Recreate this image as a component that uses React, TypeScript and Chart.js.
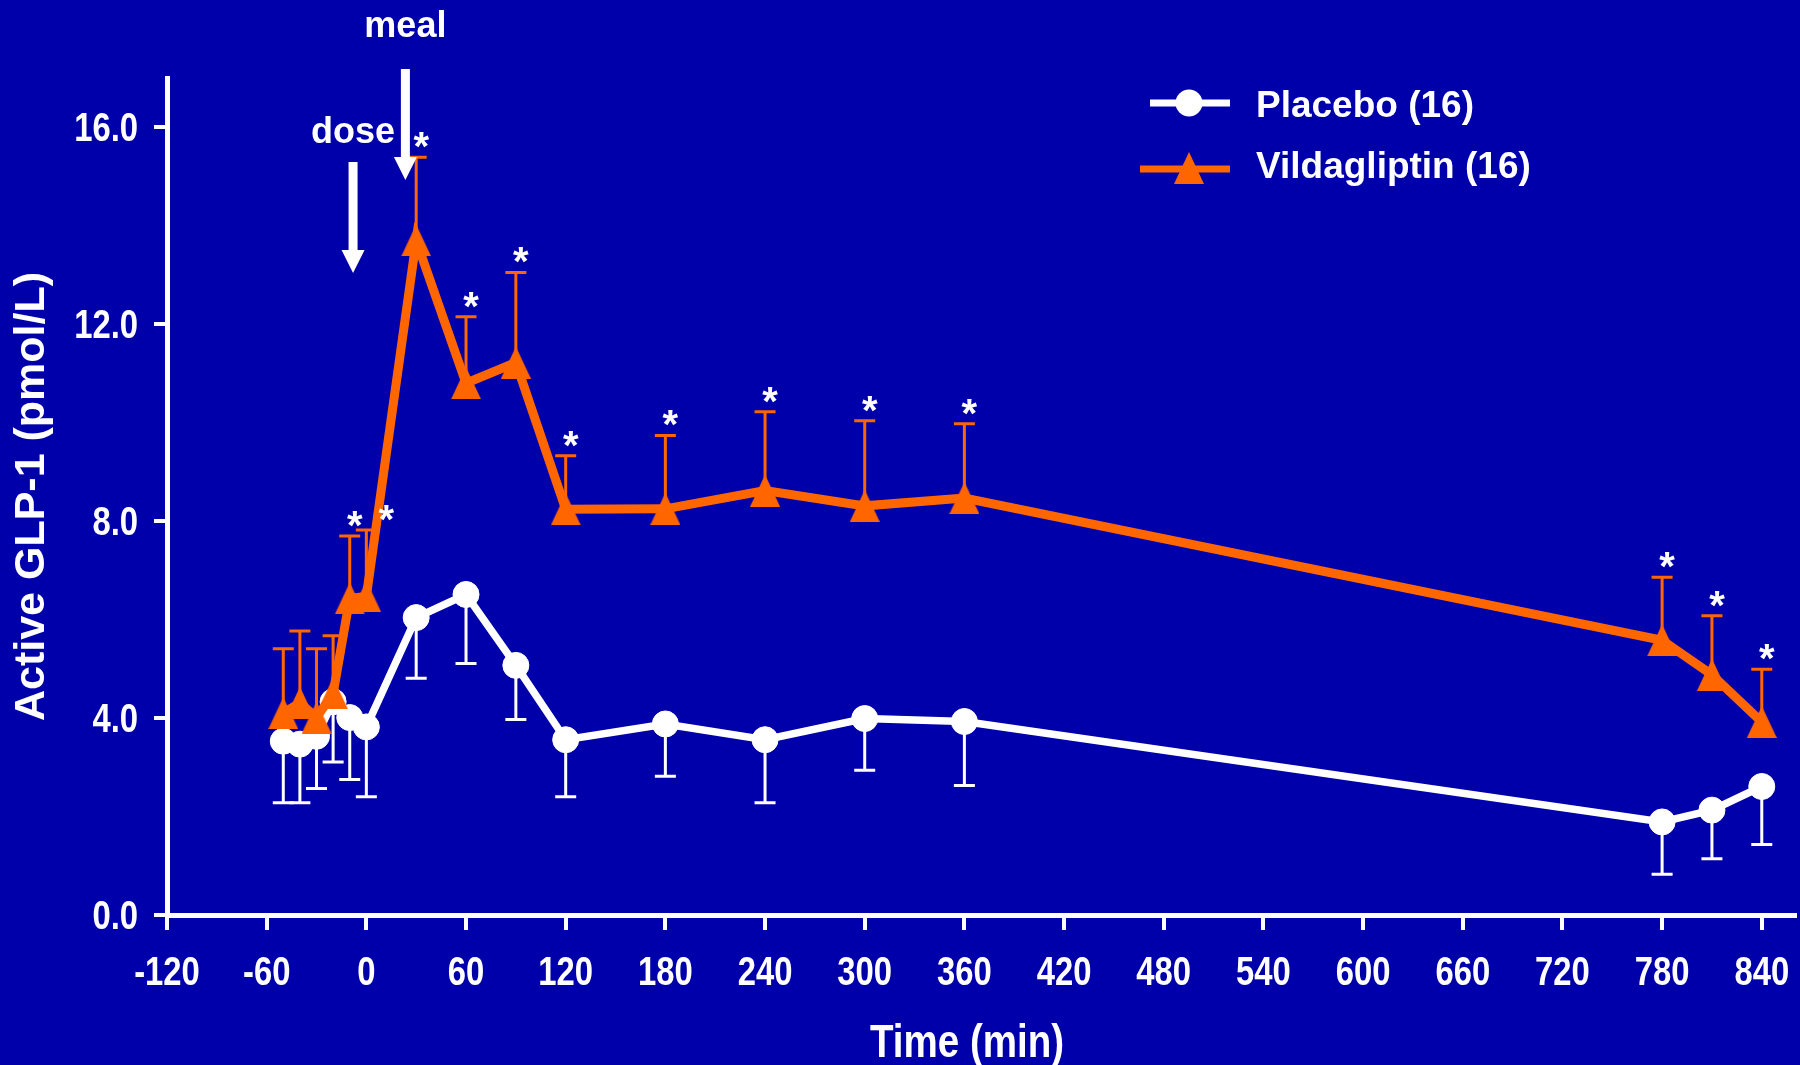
import React, { useEffect, useRef } from 'react';
import { Chart, registerables } from 'chart.js';

Chart.register(...registerables);

// ---------- data ----------
const timePoints = [-50, -40, -30, -20, -10, 0, 30, 60, 90, 120, 180, 240, 300, 360, 780, 810, 840];
const placeboMean = [3.53, 3.47, 3.63, 4.33, 4.01, 3.82, 6.04, 6.51, 5.07, 3.56, 3.88, 3.56, 3.99, 3.93, 1.89, 2.13, 2.61];
const placeboSD = [1.25, 1.19, 1.06, 1.22, 1.26, 1.42, 1.23, 1.4, 1.1, 1.16, 1.06, 1.28, 1.05, 1.3, 1.06, 0.99, 1.18];
const vildagliptinMean = [4.1, 4.31, 4.01, 4.5, 6.43, 6.47, 13.7, 10.8, 11.22, 8.24, 8.25, 8.62, 8.31, 8.47, 5.58, 4.88, 3.92];
const vildagliptinSD = [1.31, 1.46, 1.4, 1.17, 1.27, 1.35, 1.69, 1.35, 1.83, 1.09, 1.49, 1.6, 1.73, 1.51, 1.28, 1.2, 1.07];
const vildagliptinSignificant = [false, false, false, false, true, true, true, true, true, true, true, true, true, true, true, true, true];
const seriesLabels = ['Placebo (16)', 'Vildagliptin (16)'];
const xTickValues = [-120, -60, 0, 60, 120, 180, 240, 300, 360, 420, 480, 540, 600, 660, 720, 780, 840];
const yTickValues = [0, 4, 8, 12, 16];
const eventLabels = ['dose', 'meal'];
const eventTimes = [-8, 23.5];
const xTitle = 'Time (min)';
const yTitle = 'Active GLP-1 (pmol/L)';

// ---------- styles ----------
const BG = '#0000AA';
const ORANGE = '#FF6600';
const WHITE = '#FFFFFF';
const FONT = '"Liberation Sans", Arial, Helvetica, sans-serif';
const CONDENSE = 0.82;

function makeTriangle(w: number, h: number, color: string): HTMLCanvasElement {
  const c = document.createElement('canvas');
  c.width = w;
  c.height = h;
  const ctx = c.getContext('2d')!;
  ctx.fillStyle = color;
  ctx.beginPath();
  ctx.moveTo(w / 2, 0);
  ctx.lineTo(w, h);
  ctx.lineTo(0, h);
  ctx.closePath();
  ctx.fill();
  return c;
}

function condensedText(ctx: CanvasRenderingContext2D, text: string, x: number, y: number, align: CanvasTextAlign) {
  ctx.save();
  ctx.translate(x, y);
  ctx.scale(CONDENSE, 1);
  ctx.textAlign = align;
  ctx.textBaseline = 'alphabetic';
  ctx.fillText(text, 0, 0);
  ctx.restore();
}

export default function App() {
  const ref = useRef<HTMLCanvasElement | null>(null);

  useEffect(() => {
    if (!ref.current) return;
    const tri = makeTriangle(30, 32, ORANGE);

    const plugin = {
      id: 'custom',
      beforeDatasetsDraw(chart: any) {
        const { ctx } = chart;
        const xs = chart.scales.x;
        const ys = chart.scales.y;
        chart.data.datasets.forEach((ds: any) => {
          ctx.save();
          ctx.strokeStyle = ds.errorColor;
          ctx.lineWidth = 3;
          ds.data.forEach((pt: any, j: number) => {
            const px = xs.getPixelForValue(pt.x);
            const py = ys.getPixelForValue(pt.y);
            const pe = ys.getPixelForValue(pt.y + ds.errorDir * ds.sd[j]);
            ctx.beginPath();
            ctx.moveTo(px, py);
            ctx.lineTo(px, pe);
            ctx.moveTo(px - 10.5, pe);
            ctx.lineTo(px + 10.5, pe);
            ctx.stroke();
          });
          ctx.restore();
        });
      },
      afterDatasetsDraw(chart: any) {
        const { ctx } = chart;
        const xs = chart.scales.x;
        const ys = chart.scales.y;
        ctx.save();
        ctx.fillStyle = WHITE;
        ctx.font = `bold 40px ${FONT}`;
        ctx.textAlign = 'center';
        ctx.textBaseline = 'alphabetic';
        let prevT: number | null = null;
        timePoints.forEach((t, j) => {
          if (!vildagliptinSignificant[j]) return;
          const px = xs.getPixelForValue(t);
          const pe = ys.getPixelForValue(vildagliptinMean[j] + vildagliptinSD[j]);
          const dx = prevT !== null && t - prevT < 15 ? 20 : 5;
          ctx.fillText('*', px + dx, pe + 3);
          prevT = t;
        });
        ctx.restore();
      },
      afterDraw(chart: any) {
        const { ctx } = chart;
        const xs = chart.scales.x;
        const ys = chart.scales.y;
        ctx.save();
        ctx.fillStyle = WHITE;
        ctx.strokeStyle = WHITE;

        // tick labels
        ctx.font = `bold 40px ${FONT}`;
        xTickValues.forEach((v) => {
          condensedText(ctx, String(v), xs.getPixelForValue(v), 985, 'center');
        });
        yTickValues.forEach((v) => {
          condensedText(ctx, v.toFixed(1), 138, ys.getPixelForValue(v) + 14, 'right');
        });

        // x-axis title
        ctx.font = `bold 47px ${FONT}`;
        condensedText(ctx, xTitle, 967, 1057, 'center');

        // dose / meal arrows
        const textBase = [143, 37];
        const arrowTop = [162, 69];
        const arrowTip = [273, 180];
        eventLabels.forEach((lab, i) => {
          const px = xs.getPixelForValue(eventTimes[i]);
          ctx.font = `bold 36px ${FONT}`;
          ctx.textAlign = 'center';
          ctx.textBaseline = 'alphabetic';
          ctx.fillText(lab, px, textBase[i]);
          const headH = 23;
          ctx.fillRect(px - 4.5, arrowTop[i], 9, arrowTip[i] - headH - arrowTop[i] + 1);
          ctx.beginPath();
          ctx.moveTo(px - 11.5, arrowTip[i] - headH);
          ctx.lineTo(px + 11.5, arrowTip[i] - headH);
          ctx.lineTo(px, arrowTip[i]);
          ctx.closePath();
          ctx.fill();
        });

        // legend
        const lineY = [103, 169];
        const textY = [117, 178];
        const lineX0 = [1150, 1140];
        chart.data.datasets.forEach((ds: any, i: number) => {
          ctx.strokeStyle = ds.borderColor;
          ctx.lineWidth = 7;
          ctx.beginPath();
          ctx.moveTo(lineX0[i], lineY[i]);
          ctx.lineTo(1230, lineY[i]);
          ctx.stroke();
          if (i === 0) {
            ctx.fillStyle = WHITE;
            ctx.beginPath();
            ctx.arc(1189, lineY[i], 13.5, 0, Math.PI * 2);
            ctx.fill();
          } else {
            ctx.drawImage(tri, 1189 - 15, lineY[i] - 17);
          }
          ctx.fillStyle = WHITE;
          ctx.font = `bold 37px ${FONT}`;
          ctx.textAlign = 'left';
          ctx.textBaseline = 'alphabetic';
          ctx.fillText(ds.label, 1256, textY[i]);
        });
        ctx.restore();
      },
    };

    const chart = new Chart(ref.current, {
      type: 'line',
      data: {
        datasets: [
          {
            label: seriesLabels[0],
            data: timePoints.map((t, i) => ({ x: t, y: placeboMean[i] })),
            borderColor: WHITE,
            backgroundColor: WHITE,
            borderWidth: 7.5,
            pointRadius: 13,
            pointBorderWidth: 1,
            pointBackgroundColor: WHITE,
            pointBorderColor: WHITE,
            tension: 0,
            order: 1,
            errorDir: -1,
            errorColor: WHITE,
            sd: placeboSD,
          } as any,
          {
            label: seriesLabels[1],
            data: timePoints.map((t, i) => ({ x: t, y: vildagliptinMean[i] })),
            borderColor: ORANGE,
            backgroundColor: ORANGE,
            borderWidth: 9,
            pointStyle: tri,
            pointRadius: 16,
            tension: 0,
            order: 0,
            errorDir: 1,
            errorColor: ORANGE,
            sd: vildagliptinSD,
          } as any,
        ],
      },
      options: {
        animation: false,
        responsive: false,
        devicePixelRatio: 1,
        layout: { autoPadding: false, padding: { top: 78, right: 5, left: 0, bottom: 0 } },
        plugins: { legend: { display: false }, tooltip: { enabled: false } },
        scales: {
          x: {
            type: 'linear',
            min: -120,
            max: 860,
            afterBuildTicks: (s: any) => {
              s.ticks = xTickValues.map((v) => ({ value: v }));
            },
            afterFit: (s: any) => {
              s.height = 150;
              s.paddingLeft = 0;
              s.paddingRight = 0;
            },
            grid: {
              display: true,
              drawOnChartArea: false,
              drawTicks: true,
              tickLength: 15,
              tickWidth: 4,
              tickColor: WHITE,
              color: WHITE,
              lineWidth: 4,
            },
            border: { display: true, color: WHITE, width: 5 },
            ticks: { display: false, autoSkip: false },
            title: { display: false },
          },
          y: {
            type: 'linear',
            min: 0,
            max: 17,
            afterBuildTicks: (s: any) => {
              s.ticks = yTickValues.map((v) => ({ value: v }));
            },
            afterFit: (s: any) => {
              s.width = 167;
              s.paddingTop = 0;
              s.paddingBottom = 0;
            },
            grid: {
              display: true,
              drawOnChartArea: false,
              drawTicks: true,
              tickLength: 13,
              tickWidth: 4,
              tickColor: WHITE,
              color: WHITE,
              lineWidth: 4,
            },
            border: { display: true, color: WHITE, width: 5 },
            ticks: { display: false, autoSkip: false },
            title: {
              display: true,
              text: yTitle,
              color: WHITE,
              font: { family: FONT, size: 43, weight: 'bold' },
              padding: { top: 6, bottom: 0 },
            },
          },
        },
      } as any,
      plugins: [plugin],
    });

    return () => chart.destroy();
  }, []);

  return (
    <div
      style={{
        position: 'fixed',
        left: 0,
        top: 0,
        width: 1800,
        height: 1065,
        background: BG,
        overflow: 'hidden',
      }}
    >
      <canvas ref={ref} width={1800} height={1065} style={{ display: 'block', width: 1800, height: 1065 }} />
    </div>
  );
}
